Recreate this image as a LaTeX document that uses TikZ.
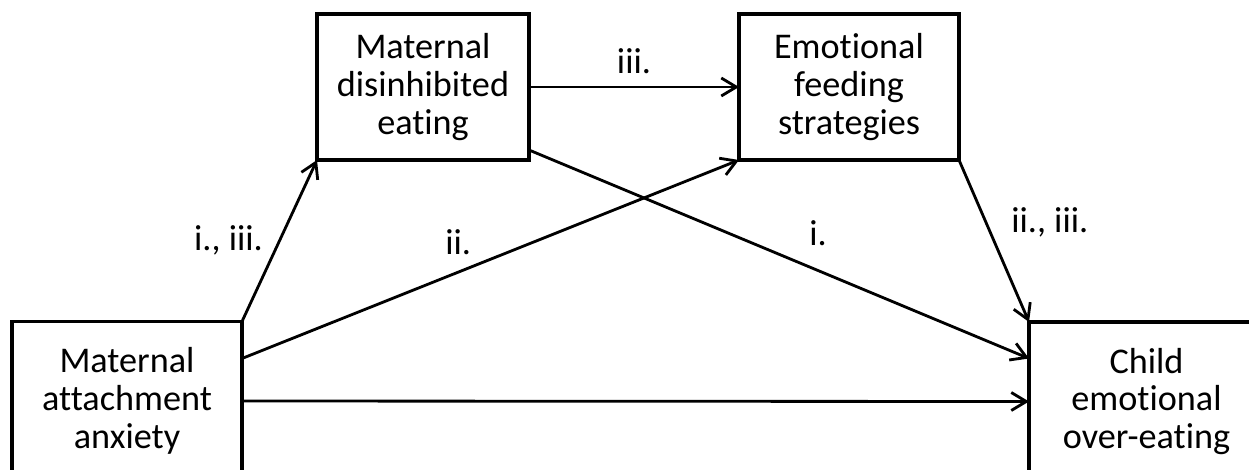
\documentclass[tikz,border=0pt]{standalone}
\usepackage{fontspec}
\setmainfont{Carlito}[Ligatures=CommonOff]
\usetikzlibrary{arrows.meta,positioning}

\begin{document}
\begin{tikzpicture}[
    font=\fontsize{20.6}{21.5}\selectfont,
    box/.style={rectangle, draw=black, line width=2.2pt, outer sep=0pt, align=center, minimum height=3.18cm},
    topbox/.style={box, minimum height=2.92cm},
    arrow/.style={-{Straight Barb[length=3mm, width=3.6mm]}, line width=1.6pt}
]
\useasboundingbox (0,0) rectangle (24.98,-9.38);

% Nodes
\node [box, minimum width=4.6cm] (anxiety) at (2.54,-8.02) {Maternal\\attachment\\anxiety};
\node [topbox, minimum width=4.24cm, above right=3.23cm and 1.5cm of anxiety, anchor=south west] (disinhib) {Maternal\\disinhibited\\eating};
\node [topbox, minimum width=4.4cm, right=4.2cm of disinhib] (feeding) {Emotional\\feeding\\strategies};
\node [box, minimum width=4.7cm, below right=3.24cm and 1.4cm of feeding, anchor=north west] (overeat) {Child\\emotional\\over-eating};

% Paths
\draw [arrow] (anxiety.north east) -- (disinhib.south west) node[midway, xshift=-1.02cm] {i., iii.};
\draw [arrow] ([yshift=0.85cm]anxiety.east) -- (feeding.south west) node[pos=0.435, yshift=0.6cm] {ii.};
\draw [arrow] (anxiety.east) -- (overeat.west);
\draw [arrow] (disinhib.east) -- (feeding.west) node[midway, yshift=0.52cm] {iii.};
\draw [arrow] ([yshift=0.2cm]disinhib.south east) -- ([yshift=0.86cm]overeat.west) node[pos=0.578, yshift=0.74cm] {i.};
\draw [arrow] (feeding.south east) -- (overeat.north west) node[pos=0.383, xshift=1.28cm] {ii., iii.};

\end{tikzpicture}
\end{document}
